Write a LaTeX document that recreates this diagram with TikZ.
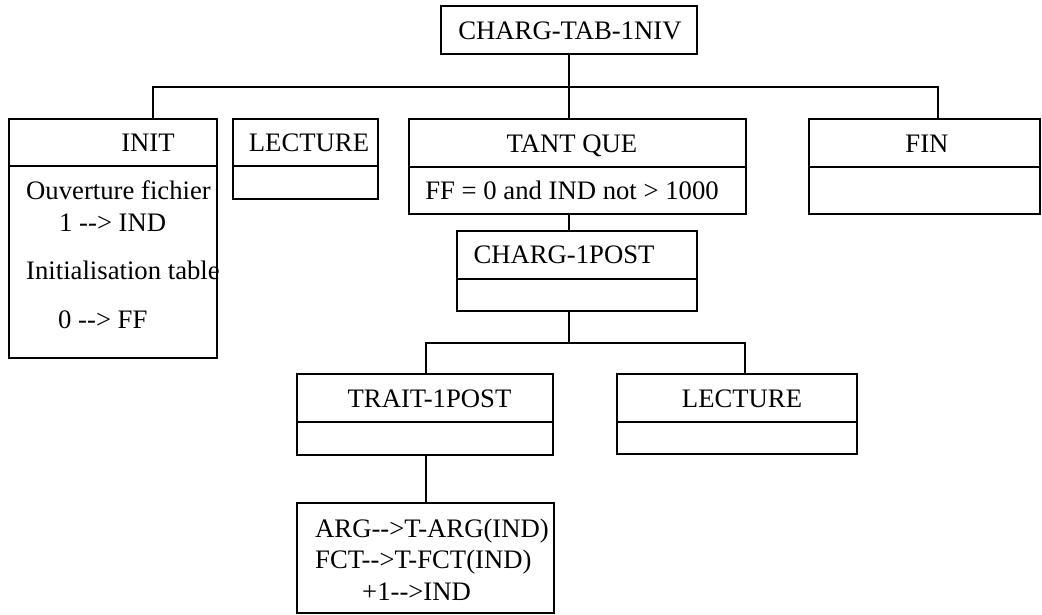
\documentclass[tikz,border=0pt]{standalone}
\usepackage{fontspec}
\setmainfont{Liberation Serif}
\begin{document}
\begin{tikzpicture}[x=1pt,y=-1pt,
  box/.style={draw,line width=2pt,rectangle,inner sep=0pt,outer sep=0pt},
  link/.style={line width=2pt},
  lbl/.style={inner sep=0pt,anchor=base,font=\fontsize{26.7}{32}\selectfont},
  lbll/.style={lbl,anchor=base west}]
\useasboundingbox (0,0) rectangle (1042,614);
% cell: name, left, right, top, divider, bottom
\newcommand\umlcell[6]{%
  \node[box,minimum width={#3-#2},minimum height={#6-#4}] (#1) at ({(#2+#3)/2},{(#4+#6)/2}) {};
  \draw[link] (#1.west |- 0,#5) -- (#1.east |- 0,#5);}

% top node
\node[box,minimum width=256,minimum height=48] (root) at (569,30) {};
\node[lbl] (root-t) at (570,39) {CHARG-TAB-1NIV};

% first level
\umlcell{init}{9}{217}{119}{166}{358}
\umlcell{lect}{233}{378}{119}{166}{199}
\umlcell{tant}{409}{746}{119}{167}{214}
\umlcell{fin}{809}{1040}{119}{167}{214}
\node[lbl] (init-t) at (148,151) {INIT};
\node[lbll] (init-a) at (26,199) {Ouverture fichier};
\node[lbll] (init-b) at (59,231) {1 -{}-> IND};
\node[lbll] (init-c) at (26,279) {Initialisation table};
\node[lbll] (init-d) at (58,328) {0 -{}-> FF};
\node[lbl] (lect-t) at (309,151) {LECTURE};
\node[lbl] (tant-t) at (572,152) {TANT QUE};
\node[lbl] (tant-c) at (572,199) {FF = 0 and IND not > 1000};
\node[lbl] (fin-t) at (927,152) {FIN};

% loop body
\umlcell{charg}{457}{697}{231}{279}{311}
\node[lbl] (charg-t) at (564,263) {CHARG-1POST};

% second level
\umlcell{trait}{297}{553}{374}{422}{455}
\umlcell{lect2}{617}{857}{374}{422}{454}
\node[lbl] (trait-t) at (429.5,407) {TRAIT-1POST};
\node[lbl] (lect2-t) at (742,407) {LECTURE};

% actions
\node[box,minimum width=257,minimum height=110] (act) at (425.5,558) {};
\node[lbll] (act-a) at (315,537) {ARG-{}->T-ARG(IND)};
\node[lbll] (act-b) at (315,568) {FCT-{}->T-FCT(IND)};
\node[lbll] (act-c) at (362,600) {+1-{}->IND};

% connectors
\coordinate (busA) at (153,87);
\coordinate (busB) at (938,87);
\coordinate (busC) at (426,343);
\coordinate (busD) at (745,343);
\draw[link] (root.south) -- (root.south |- tant.north);
\draw[link] (busA |- init.north) -- (busA) -- (busB) -- (busB |- fin.north);
\draw[link] (root.south |- tant.south) -- (root.south |- charg.north);
\draw[link] (root.south |- charg.south) -- (root.south |- busC);
\draw[link] (busC |- trait.north) -- (busC) -- (busD) -- (busD |- lect2.north);
\draw[link] (busC |- trait.south) -- (busC |- act.north);
\end{tikzpicture}
\end{document}
